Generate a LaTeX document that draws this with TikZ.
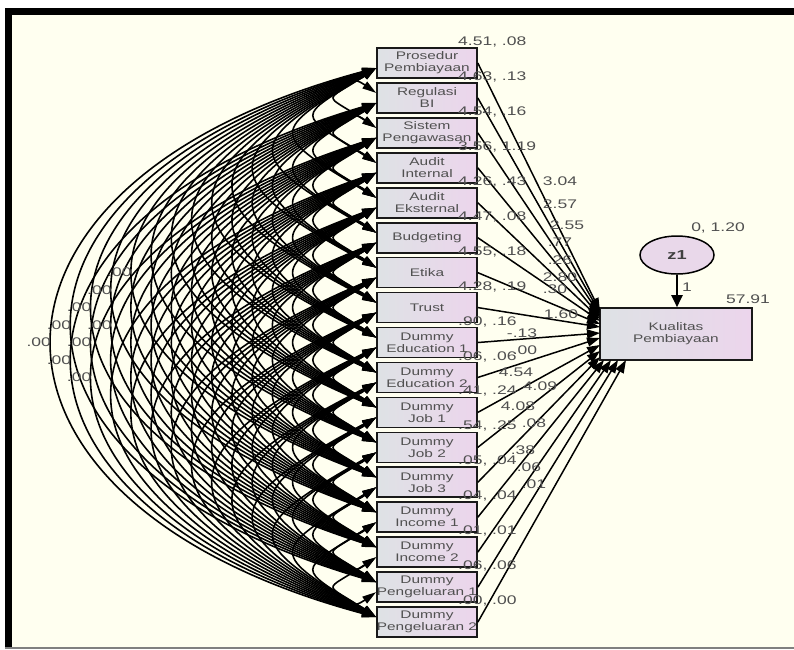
\documentclass[tikz,border=0pt]{standalone}
\usepackage{fontspec}
\setmainfont{Liberation Sans}
\newfontfamily\labfont[FakeStretch=1.4]{Liberation Sans}
\usetikzlibrary{arrows.meta,shapes.geometric,calc}
\definecolor{cream}{RGB}{255,255,240}
\definecolor{txtgray}{RGB}{80,80,80}
\definecolor{boxL}{RGB}{222,226,229}
\definecolor{boxR}{RGB}{236,213,236}
\definecolor{zfill}{RGB}{233,216,234}
\begin{document}
\begin{tikzpicture}[x=1pt,y=-1pt,
  varbox/.style={draw=black!90, line width=1.6pt, minimum width=100pt, minimum height=30pt,
    inner sep=0pt, left color=boxL, right color=boxR, align=center,
    font=\labfont\fontsize{11}{12}\selectfont, text=txtgray},
  numlab/.style={font=\labfont\fontsize{12.5}{12.5}\selectfont, text=txtgray, inner sep=0pt},
  covarc/.style={black, line width=1.6pt, {Triangle[length=14pt,width=8pt]}-{Triangle[length=14pt,width=8pt]}},
  regarrow/.style={black, line width=1.5pt, -{Triangle[length=13pt,width=9pt]}},
  zarrow/.style={black, line width=2pt, -{Triangle[length=12pt,width=11pt]}}
]
\useasboundingbox (0,0) rectangle (794,649);
\fill[white] (0,0) rectangle (794,649);
\fill[cream] (5,8) rectangle (794,649);
\fill[black] (5,8) rectangle (794,15);
\fill[black] (5,8) rectangle (12,649);
\draw[gray, line width=1.5pt] (5,648) -- (794,648);

% observed variables
\foreach \t [count=\i] in {{Prosedur\\Pembiayaan},{Regulasi\\BI},{Sistem\\Pengawasan},{Audit\\Internal},{Audit\\Eksternal},{Budgeting},{Etika},{Trust},{Dummy\\Education 1},{Dummy\\Education 2},{Dummy\\Job 1},{Dummy\\Job 2},{Dummy\\Job 3},{Dummy\\Income 1},{Dummy\\Income 2},{Dummy\\Pengeluaran 1},{Dummy\\Pengeluaran 2}}
  \node[varbox] (b\i) at (427,{63+(\i-1)*34.94}) {\t};

\node[varbox, minimum width=152pt, minimum height=52pt] (kp) at (676,334) {Kualitas\\Pembiayaan};
\node[ellipse, draw=black, line width=1.5pt, fill=zfill, minimum width=74pt, minimum height=38pt,
  inner sep=0pt, font=\labfont\bfseries\fontsize{13}{13}\selectfont, text=black!75] (z1) at (677,255) {z1};

% covariances
\foreach \i in {1,...,16}{
  \pgfmathtruncatemacro\ii{\i+1}
  \foreach \j in {\ii,...,17}{
    \pgfmathsetmacro\hx{0.77*(\j-\i)*34.94}
    \pgfmathsetmacro\th{35-(\j-\i-1)*20/15}
    \pgfmathsetmacro\hy{\hx*tan(\th)}
    \draw[covarc] ($(b\i.west)+(0,5)$) .. controls ($(b\i.west)+(-\hx,5+\hy)$) and ($(b\j.west)+(-\hx,-5-\hy)$) .. ($(b\j.west)+(0,-5)$);
  }
}
% covariance labels of the outer arcs
\foreach \i in {1,...,5}{
  \pgfmathtruncatemacro\lo{11+\i}
  \foreach \s in {\lo,...,16}{
    \pgfmathtruncatemacro\j{\i+\s}
    \ifnum\j<18
      \pgfmathsetmacro\lx{377-0.5775*\s*34.94-3}
      \pgfmathsetmacro\ly{63+(\i-1)*34.94+\s*34.94/2}
      \node[numlab, anchor=east] (c\i-\j) at (\lx,\ly) {.00};
    \fi
  }
}

% regression targets
\foreach \x/\y [count=\i] in {600/311,600/313,600/315,600/317,600/319,600/321,600/324,600/327,600/333,600/338,600/345,600/351,600/357,604/360,611/360,618/360,626/360}
  \coordinate (t\i) at (\x,\y);
\foreach \i in {1,...,17}
  \draw[regarrow] (b\i.east) -- (t\i);

\draw[zarrow] (z1.south) -- (z1.south |- kp.north);

% means and variances
\foreach \v [count=\i] in {{4.51, .08},{4.63, .13},{4.54, .16},{3.56, 1.19},{4.26, .43},{4.47, .08},{4.55, .18},{4.28, .19},{.90, .16},{.06, .06},{.41, .24},{.54, .25},{.05, .04},{.04, .04},{.01, .01},{.06, .06},{.00, .00}}
  \node[numlab, anchor=west] (m\i) at (458,{63+(\i-1)*34.94-21}) {\v};

% regression weights
\foreach \x/\y/\v [count=\i] in {560/181/3.04,560/204/2.57,567/225/2.55,560/242/.77,560/260/.26,560/277/2.80,555/289/.30,561/314/1.60,522/333/-.13,525/350/.00,516/372/4.54,540/386/4.09,518/406/4.08,534/423/.08,523/450/.38,529/467/.06,534/484/.01}
  \node[numlab] (r\i) at (\x,\y) {\v};

\node[numlab] (w1) at (687,287) {1};
\node[numlab] (zv) at (718,228) {0, 1.20};
\node[numlab] (kv) at (748,299) {57.91};
\end{tikzpicture}
\end{document}
